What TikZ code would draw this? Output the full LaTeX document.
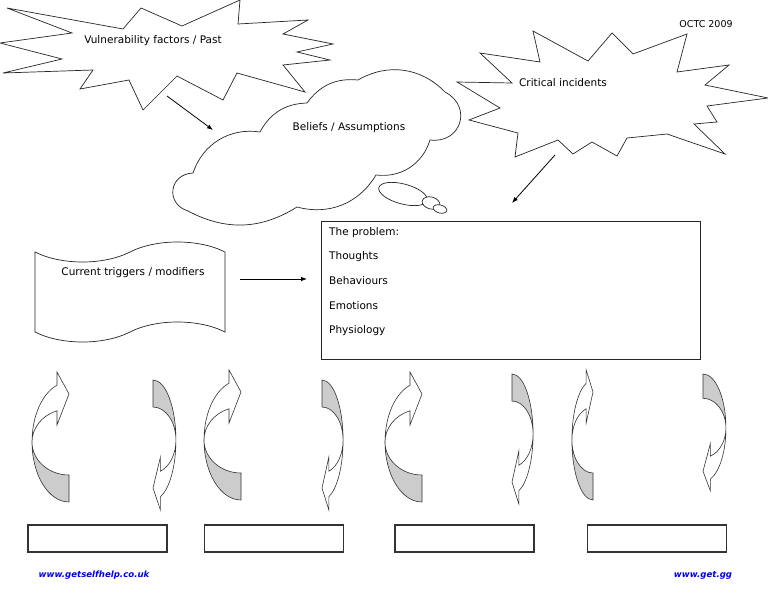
\documentclass[tikz,border=0pt]{standalone}
\usepackage{fontspec}
\setmainfont{DejaVu Sans}
\usepackage{xcolor}
\usetikzlibrary{arrows.meta,shapes.symbols}

\definecolor{shadegray}{RGB}{204,204,204}
\definecolor{linkblue}{RGB}{0,0,235}

\tikzset{
  arrowline/.style={draw=black!80, line width=0.6pt, line join=miter},
  curvedArrow/.pic={
    % shaded back of the band
    \filldraw[arrowline, fill=shadegray] (-37,0) .. controls (-37,33.1) and (-20.4,60) .. (0,60)
      -- (0,33) .. controls (-20.4,33) and (-37,18.2) .. (-37,0) -- cycle;
    % front of the band with its head
    \filldraw[arrowline, fill=white] (-37,0) .. controls (-37,-25.7) and (-27,-48.5) .. (-12,-56.8)
      -- (-12,-70) -- (0,-48) -- (-12,-17) -- (-12,-31.2)
      .. controls (-27,-26.6) and (-37,-14.1) .. (-37,0) -- cycle;
  }
}

\begin{document}
\begin{tikzpicture}[
    x=1pt, y=-1pt,
    >=Latex,
    burst/.style={draw=black!85, line width=0.7pt, fill=white, line join=miter},
    txt/.style={inner sep=0pt, font=\fontsize{10.5}{12}\selectfont},
    tapebox/.style={draw=black!85, line width=0.7pt, tape, tape bend height=20pt, minimum width=190pt, minimum height=100pt, inner sep=0pt},
    probbox/.style={draw=black!85, line width=0.9pt, minimum width=379pt, minimum height=138pt, inner sep=0pt},
    answer/.style={draw=black!80, line width=1.2pt, minimum width=139pt, minimum height=27pt, inner sep=0pt},
    web/.style={inner sep=0pt, text=linkblue, font=\fontsize{8.6}{10}\selectfont\bfseries\itshape},
    line/.style={-{Latex[length=6pt,width=4.5pt]}, line width=0.8pt}
]
\fill[white] (0,0) rectangle (768,594);
\useasboundingbox (0,0) rectangle (768,594);

% Vulnerability burst
\draw[burst] (7,8) -- (123,29) -- (141,8) -- (182,26) -- (240,0) -- (238,24) -- (308,20) -- (283,34)
  -- (333,44) -- (297,52) -- (330,60) -- (283,65) -- (305,92) -- (237,73) -- (223,100) -- (177,76)
  -- (143,110) -- (129,80) -- (80,89) -- (93,70) -- (3,73) -- (62,59) -- (0,43) -- (72,33) -- cycle;
\node[txt] (vuln) at (153,41) {Vulnerability factors / Past};

% Critical incidents burst
\draw[burst] (533,31) -- (588,61) -- (612,33) -- (633,54) -- (687,34) -- (677,72) -- (729,65) -- (705,85)
  -- (768,98) -- (707,106) -- (717,122) -- (694,124) -- (725,154) -- (667,134) -- (627,138) -- (617,156)
  -- (592,142) -- (573,154) -- (558,140) -- (515,157) -- (518,133) -- (469,120) -- (500,108) -- (457,82)
  -- (512,83) -- (480,53) -- (540,62) -- cycle;
\node[txt] (crit) at (563,83) {Critical incidents};
\node[inner sep=0pt, font=\fontsize{9.5}{11}\selectfont] (year) at (706,24) {OCTC 2009};

% Beliefs cloud and its bubbles
\draw[burst] (260,132) to[bend left=30] (307,103) to[bend left=30] (358,80) to[bend left=38] (445,92)
  to[bend left=80, looseness=1.6] (430,140) to[bend left=40] (376,175) to[bend left=37] (297,207)
  to[bend left=30] (188,211) to[bend left=80, looseness=1.6] (193,173) to[bend left=40] (260,132) -- cycle;
\node[txt] (belief) at (349,128) {Beliefs / Assumptions};
\draw[burst, rotate around={-15:(403,194)}] (403,194) ellipse (25 and 10);
\draw[burst, rotate around={-15:(431,203)}] (431,203) ellipse (9 and 6);
\draw[burst, rotate around={-15:(440,209)}] (440,209) ellipse (7 and 4);

% Triggers and the problem
\node[tapebox] (trig) at (130,292) {};
\node[txt] (trigtxt) at (133,273) {Current triggers / modifiers};
\node[probbox] (prob) at (510.5,290) {};
\node[txt, anchor=north west, align=left, font=\fontsize{10.5}{24.7}\selectfont] (probtxt) at (329,227)
  {The problem:\\Thoughts\\Behaviours\\Emotions\\Physiology};

% Arrow ends
\coordinate (vulnOut) at (167,96);
\coordinate (beliefIn) at (213,130);
\coordinate (critOut) at (555,155);
\coordinate (probTop) at (512,203);
\coordinate (trigOut) at (240,279);
\coordinate (probIn) at (307,279);

\draw[line] (vulnOut) -- (beliefIn);
\draw[line] (critOut) -- (probTop);
\draw[line] (trigOut) -- (probIn);

% Vicious circles
\pic at (69,442) {curvedArrow};
\pic[rotate=180, xscale=0.62] at (153,440) {curvedArrow};
\pic at (241,440) {curvedArrow};
\pic[rotate=180, xscale=0.57] at (322,440) {curvedArrow};
\pic at (422,442) {curvedArrow};
\pic[rotate=180, xscale=0.57] at (512,434) {curvedArrow};
\pic[xscale=0.57] at (593,440) {curvedArrow};
\pic[rotate=180, xscale=0.62, yscale=0.9] at (703,428) {curvedArrow};

% Answer boxes
\node[answer] (box1) at (97.5,538.5) {};
\node[answer] (box2) at (274,538.5) {};
\node[answer] (box3) at (464.5,538.5) {};
\node[answer] (box4) at (657,538.5) {};

% Footer
\node[web] (site1) at (94,575) {www.getselfhelp.co.uk};
\node[web] (site2) at (703,575) {www.get.gg};
\end{tikzpicture}
\end{document}
